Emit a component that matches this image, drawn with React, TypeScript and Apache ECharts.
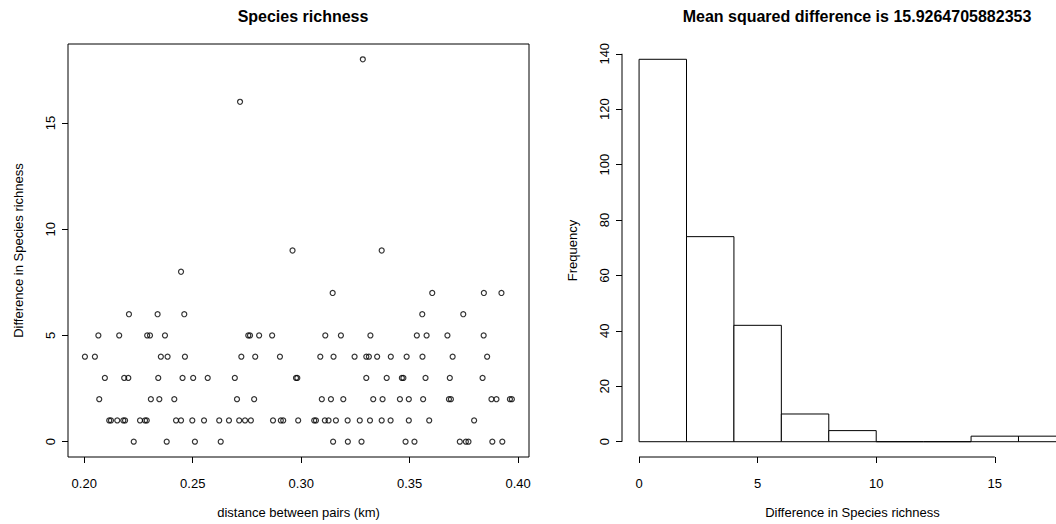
import React, { useEffect, useRef } from "react";
import * as echarts from "echarts";

// ---------- Scatter data: distance (km) for each difference in species richness ----------
const distDiff0 = [0.2228, 0.238, 0.251, 0.2629, 0.3147, 0.3215, 0.3278, 0.3481, 0.3522, 0.3731, 0.3759, 0.3771, 0.3881, 0.3927];
const distDiff1 = [
  0.2115, 0.2123, 0.2152, 0.218, 0.2188, 0.2257, 0.228, 0.2288, 0.2423, 0.2446, 0.2498, 0.2552,
  0.2622, 0.2667, 0.2714, 0.2741, 0.2768, 0.287, 0.2906, 0.2917, 0.2986, 0.306, 0.3068, 0.3109,
  0.3126, 0.316, 0.3214, 0.327, 0.3317, 0.3371, 0.3412, 0.3496, 0.359, 0.3797,
];
const distDiff2 = [
  0.2069, 0.2307, 0.2346, 0.2415, 0.2704, 0.2783, 0.3095, 0.3137, 0.3194, 0.3332, 0.3375, 0.3455,
  0.3496, 0.3562, 0.3681, 0.369, 0.3877, 0.39, 0.3962, 0.3971,
];
const distDiff3 = [
  0.2095, 0.2184, 0.2203, 0.2341, 0.2453, 0.2502, 0.2569, 0.2694, 0.2976, 0.2982, 0.33, 0.3394,
  0.3464, 0.3471, 0.3573, 0.3685, 0.3836,
];
const distDiff4 = [
  0.2003, 0.2049, 0.2353, 0.2384, 0.2464, 0.2724, 0.2788, 0.2902, 0.3088, 0.3149, 0.3246, 0.33,
  0.3312, 0.335, 0.3413, 0.3486, 0.3559, 0.3698, 0.3857,
];
const distDiff5 = [0.2065, 0.2161, 0.229, 0.2303, 0.2372, 0.2756, 0.2764, 0.2806, 0.2866, 0.3111, 0.3183, 0.3319, 0.3533, 0.3578, 0.3674, 0.3841];
const distDiff6 = [0.2206, 0.2338, 0.2461, 0.3558, 0.3747];
const distDiff7 = [0.3145, 0.3604, 0.3842, 0.3923];
const distDiff8 = [0.2446];
const distDiff9 = [0.296, 0.3371];
const distDiff16 = [0.2718];
const distDiff18 = [0.3284];

const scatterGroups: [number, number[]][] = [
  [0, distDiff0], [1, distDiff1], [2, distDiff2], [3, distDiff3], [4, distDiff4], [5, distDiff5],
  [6, distDiff6], [7, distDiff7], [8, distDiff8], [9, distDiff9], [16, distDiff16], [18, distDiff18],
];

// ---------- Histogram data ----------
const binStarts = [0, 2, 4, 6, 8, 10, 12, 14, 16];
const binWidth = 2;
const frequencies = [138, 74, 42, 10, 4, 0, 0, 2, 2];

// ---------- Ticks ----------
const scatterXTicks = [0.2, 0.25, 0.3, 0.35, 0.4];
const scatterYTicks = [0, 5, 10, 15];
const histXTicks = [0, 5, 10, 15];
const histYTicks = [0, 20, 40, 60, 80, 100, 120, 140];

const FONT = "'Liberation Sans', Arial, Helvetica, sans-serif";

export default function App() {
  const ref = useRef<HTMLDivElement>(null);

  useEffect(() => {
    if (!ref.current) return;
    const chart = echarts.init(ref.current, null, { renderer: "svg" });

    const scatterData: number[][] = [];
    scatterGroups.forEach(([d, xs]) => xs.forEach((x) => scatterData.push([x, d])));
    const histData = binStarts.map((b, i) => [b, b + binWidth, frequencies[i]]);

    const labelStyle = { color: "#000", fontSize: 13, fontFamily: FONT };
    const tick = { show: true, inside: false, length: 6, lineStyle: { color: "#000", width: 1 } };
    const noLine = { show: false, onZero: false };

    const option: any = {
      animation: false,
      backgroundColor: "#fff",
      textStyle: { fontFamily: FONT },
      title: [
        {
          text: "Species richness",
          left: 298,
          top: 3,
          textAlign: "center",
          textStyle: { fontSize: 16, fontWeight: "bold", color: "#000", fontFamily: FONT },
        },
        {
          text: "Mean squared difference is 15.9264705882353",
          left: 852,
          top: 3,
          textAlign: "center",
          textStyle: { fontSize: 16, fontWeight: "bold", color: "#000", fontFamily: FONT },
        },
      ],
      grid: [
        { left: 68, right: 579, top: 44, bottom: 64, show: true, borderColor: "#000", borderWidth: 1, backgroundColor: "transparent" },
        { left: 622, right: 25, top: 44, bottom: 64, show: false },
      ],
      xAxis: [
        {
          gridIndex: 0,
          type: "value",
          position: "bottom",
          min: 0.1925,
          max: 0.405,
          name: "distance between pairs (km)",
          nameLocation: "middle",
          nameGap: 49,
          nameTextStyle: labelStyle,
          axisLine: noLine,
          axisTick: { ...tick, customValues: scatterXTicks },
          axisLabel: { ...labelStyle, margin: 20, customValues: scatterXTicks, formatter: (v: number) => v.toFixed(2) },
          splitLine: { show: false },
        },
        {
          gridIndex: 1,
          type: "value",
          position: "bottom",
          min: -0.72,
          max: 18.72,
          name: "Difference in Species richness",
          nameLocation: "middle",
          nameGap: 49,
          nameTextStyle: labelStyle,
          axisLine: noLine,
          axisTick: { ...tick, customValues: histXTicks },
          axisLabel: { ...labelStyle, margin: 20, customValues: histXTicks },
          splitLine: { show: false },
        },
      ],
      yAxis: [
        {
          gridIndex: 0,
          type: "value",
          position: "left",
          min: -0.72,
          max: 18.72,
          name: "Difference in Species richness",
          nameLocation: "middle",
          nameGap: 43,
          nameRotate: 90,
          nameTextStyle: labelStyle,
          axisLine: noLine,
          axisTick: { ...tick, customValues: scatterYTicks },
          axisLabel: { ...labelStyle, margin: 11, rotate: 90, customValues: scatterYTicks },
          splitLine: { show: false },
        },
        {
          gridIndex: 1,
          type: "value",
          position: "left",
          min: -5.52,
          max: 143.52,
          name: "Frequency",
          nameLocation: "middle",
          nameGap: 43,
          nameRotate: 90,
          nameTextStyle: labelStyle,
          axisLine: noLine,
          axisTick: { ...tick, customValues: histYTicks },
          axisLabel: { ...labelStyle, margin: 11, rotate: 90, customValues: histYTicks },
          splitLine: { show: false },
        },
      ],
      series: [
        {
          type: "scatter",
          xAxisIndex: 0,
          yAxisIndex: 0,
          data: scatterData,
          symbol: "circle",
          symbolSize: 5,
          itemStyle: { color: "rgba(0,0,0,0)", borderColor: "#000", borderWidth: 1.2 },
          emphasis: { disabled: true },
        },
        {
          type: "custom",
          xAxisIndex: 1,
          yAxisIndex: 1,
          data: histData,
          encode: { x: [0, 1], y: 2 },
          clip: false,
          renderItem: (_params: any, api: any) => {
            const p0 = api.coord([api.value(0), 0]);
            const p1 = api.coord([api.value(1), api.value(2)]);
            return {
              type: "rect",
              shape: { x: p0[0], y: p1[1], width: p1[0] - p0[0], height: p0[1] - p1[1] },
              style: { fill: "#fff", stroke: "#000", lineWidth: 1 },
            };
          },
        },
      ],
    };

    chart.setOption(option);

    // R-style axis lines spanning only from first to last tick
    const finder: any = { xAxisIndex: 1, yAxisIndex: 1 };
    const hx0 = chart.convertToPixel(finder, [histXTicks[0], -5.52]) as number[];
    const hx1 = chart.convertToPixel(finder, [histXTicks[histXTicks.length - 1], -5.52]) as number[];
    const hy0 = chart.convertToPixel(finder, [-0.72, histYTicks[0]]) as number[];
    const hy1 = chart.convertToPixel(finder, [-0.72, histYTicks[histYTicks.length - 1]]) as number[];
    chart.setOption({
      graphic: [
        { type: "line", shape: { x1: hx0[0], y1: hx0[1], x2: hx1[0], y2: hx1[1] }, style: { stroke: "#000", lineWidth: 1 } },
        { type: "line", shape: { x1: hy0[0], y1: hy0[1], x2: hy1[0], y2: hy1[1] }, style: { stroke: "#000", lineWidth: 1 } },
      ],
    });

    return () => chart.dispose();
  }, []);

  return (
    <div style={{ position: "fixed", left: 0, top: 0, width: 1056, height: 524, overflow: "hidden", background: "#fff" }}>
      <div ref={ref} style={{ width: 1108, height: 524 }} />
    </div>
  );
}
